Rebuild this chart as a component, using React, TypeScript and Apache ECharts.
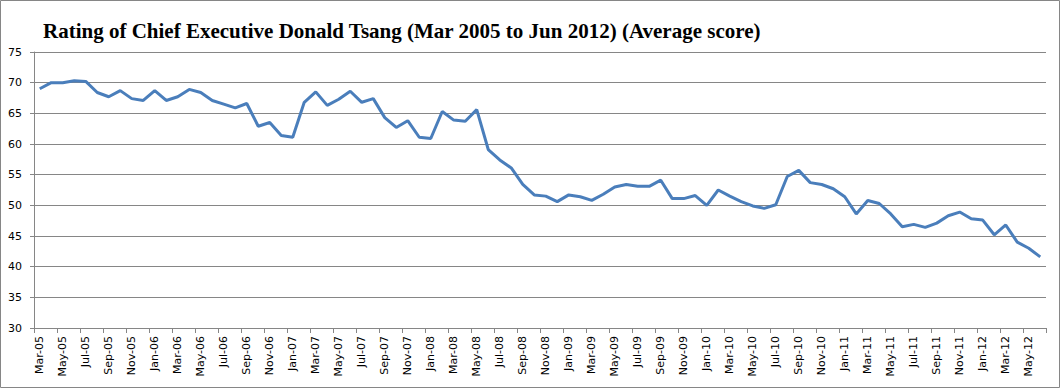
import React, { useEffect, useRef } from "react";
import * as echarts from "echarts";

const categories: string[] = [
  "Mar-05","Apr-05","May-05","Jun-05","Jul-05","Aug-05","Sep-05","Oct-05","Nov-05","Dec-05",
  "Jan-06","Feb-06","Mar-06","Apr-06","May-06","Jun-06","Jul-06","Aug-06","Sep-06","Oct-06","Nov-06","Dec-06",
  "Jan-07","Feb-07","Mar-07","Apr-07","May-07","Jun-07","Jul-07","Aug-07","Sep-07","Oct-07","Nov-07","Dec-07",
  "Jan-08","Feb-08","Mar-08","Apr-08","May-08","Jun-08","Jul-08","Aug-08","Sep-08","Oct-08","Nov-08","Dec-08",
  "Jan-09","Feb-09","Mar-09","Apr-09","May-09","Jun-09","Jul-09","Aug-09","Sep-09","Oct-09","Nov-09","Dec-09",
  "Jan-10","Feb-10","Mar-10","Apr-10","May-10","Jun-10","Jul-10","Aug-10","Sep-10","Oct-10","Nov-10","Dec-10",
  "Jan-11","Feb-11","Mar-11","Apr-11","May-11","Jun-11","Jul-11","Aug-11","Sep-11","Oct-11","Nov-11","Dec-11",
  "Jan-12","Feb-12","Mar-12","Apr-12","May-12","Jun-12",
];

const ratings: number[] = [
  69.0, 70.0, 70.0, 70.3, 70.2, 68.4, 67.7, 68.7, 67.4, 67.1,
  68.7, 67.1, 67.7, 68.9, 68.4, 67.1, 66.5, 65.9, 66.6, 62.9, 63.5, 61.4,
  61.1, 66.8, 68.5, 66.3, 67.3, 68.6, 66.8, 67.4, 64.3, 62.7, 63.8, 61.1,
  60.9, 65.3, 63.9, 63.7, 65.6, 59.1, 57.4, 56.1, 53.4, 51.7, 51.5, 50.6,
  51.7, 51.4, 50.8, 51.8, 53.0, 53.4, 53.1, 53.1, 54.1, 51.1, 51.1, 51.6,
  50.0, 52.5, 51.5, 50.6, 49.9, 49.5, 50.1, 54.7, 55.7, 53.7, 53.4, 52.7,
  51.4, 48.6, 50.8, 50.3, 48.6, 46.5, 46.9, 46.4, 47.1, 48.3, 48.9, 47.8,
  47.6, 45.2, 46.8, 44.0, 43.0, 41.6,
];

const titleText = "Rating of Chief Executive Donald Tsang (Mar 2005 to Jun 2012) (Average score)";

export default function App() {
  const ref = useRef<HTMLDivElement>(null);
  useEffect(() => {
    if (!ref.current) return;
    const chart = echarts.init(ref.current, null, { renderer: "svg" });
    chart.setOption({
      animation: false,
      backgroundColor: "#ffffff",
      title: {
        text: titleText,
        left: 38,
        top: 15,
        textStyle: {
          fontFamily: "Liberation Serif",
          fontWeight: "bold",
          fontSize: 21,
          color: "#000000",
        },
      },
      graphic: [
        {
          type: "rect",
          shape: { x: 0.5, y: 0.5, width: 1059, height: 387 },
          style: { fill: "none", stroke: "#868686", lineWidth: 1 },
          silent: true,
        },
      ],
      grid: { left: 34, right: 15, top: 52, bottom: 62, containLabel: false },
      xAxis: {
        type: "category",
        data: categories,
        boundaryGap: true,
        axisLine: { lineStyle: { color: "#868686", width: 1 } },
        axisTick: { show: true, interval: 1, length: 5, alignWithLabel: false, lineStyle: { color: "#868686" } },
        axisLabel: {
          interval: 1,
          rotate: 90,
          margin: 8,
          fontFamily: "DejaVu Sans",
          fontSize: 11,
          color: "#000000",
        },
      },
      yAxis: {
        type: "value",
        min: 30,
        max: 75,
        interval: 5,
        axisLine: { show: true, lineStyle: { color: "#868686", width: 1 } },
        axisTick: { show: true, length: 4, inside: false, lineStyle: { color: "#868686" } },
        axisLabel: {
          margin: 12,
          fontFamily: "DejaVu Sans",
          fontSize: 11,
          color: "#000000",
        },
        splitLine: { show: true, lineStyle: { color: "#868686", width: 1 } },
      },
      series: [
        {
          type: "line",
          data: ratings,
          symbol: "none",
          lineStyle: { color: "#4a7ebb", width: 3 },
          itemStyle: { color: "#4a7ebb" },
        },
      ],
    });
    return () => chart.dispose();
  }, []);
  return (
    <div
      ref={ref}
      style={{ position: "fixed", left: 0, top: 0, width: 1061, height: 390 }}
    />
  );
}
